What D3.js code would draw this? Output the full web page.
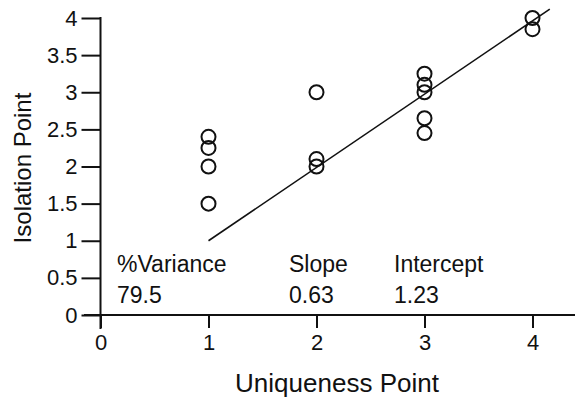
<!DOCTYPE html>
<html>
<head>
<meta charset="utf-8">
<script src="https://cdn.jsdelivr.net/npm/d3@7"></script>
<style>
  body { margin: 0; background: #fff; }
  svg text { font-family: "Liberation Sans", Arial, Helvetica, sans-serif; fill: #111; }
</style>
</head>
<body>
<div id="chart"></div>
<script>
// Points
const uniqueness = [1, 1, 1, 1, 2, 2, 2, 3, 3, 3, 3, 3, 4, 4];
const isolation = [2.4, 2.25, 2.0, 1.5, 3.0, 2.1, 2.0, 3.25, 3.1, 3.0, 2.65, 2.45, 4.0, 3.85];

// Fitted line endpoints (as drawn)
const fitX = [1, 4.16];
const fitY = [1.0, 4.12];

const xTicks = [0, 1, 2, 3, 4];
const yTicks = [0, 0.5, 1, 1.5, 2, 2.5, 3, 3.5, 4];

const statLabels = ['%Variance', 'Slope', 'Intercept'];
const statValues = ['79.5', '0.63', '1.23'];

const width = 575, height = 403;

const svg = d3.select('#chart').append('svg')
  .attr('width', width)
  .attr('height', height);

const x = d3.scaleLinear().domain([0, 4]).range([100.5, 532.5]);
const y = d3.scaleLinear().domain([0, 4]).range([315, 18]);

// y axis
const yAxis = svg.append('g')
  .attr('transform', `translate(${x(0)},0)`)
  .call(d3.axisLeft(y).tickValues(yTicks).tickFormat(d3.format('')).tickSize(19).tickPadding(4));
yAxis.select('.domain').remove();
yAxis.append('line')
  .attr('y1', y(4) - 1).attr('y2', y(0) + 14)
  .attr('stroke', '#111').attr('stroke-width', 2);
yAxis.selectAll('.tick line').attr('stroke', '#111').attr('stroke-width', 2);
yAxis.selectAll('.tick text').attr('font-size', 22).attr('fill', '#111');

// x axis
const xAxis = svg.append('g')
  .attr('transform', `translate(0,${y(0)})`)
  .call(d3.axisBottom(x).tickValues(xTicks).tickFormat(d3.format('')).tickSize(13).tickPadding(6));
xAxis.select('.domain').remove();
xAxis.append('line')
  .attr('x1', 84).attr('x2', width)
  .attr('stroke', '#111').attr('stroke-width', 2);
xAxis.selectAll('.tick line').attr('stroke', '#111').attr('stroke-width', 2);
xAxis.selectAll('.tick text').attr('font-size', 22).attr('fill', '#111');

// axis titles
svg.append('text')
  .attr('x', 337).attr('y', 392)
  .attr('text-anchor', 'middle')
  .attr('font-size', 26)
  .text('Uniqueness Point');

svg.append('text')
  .attr('transform', 'translate(31,168) rotate(-90)')
  .attr('text-anchor', 'middle')
  .attr('font-size', 24)
  .text('Isolation Point');

// regression line
svg.append('line')
  .attr('x1', x(fitX[0])).attr('y1', y(fitY[0]))
  .attr('x2', x(fitX[1])).attr('y2', y(fitY[1]))
  .attr('stroke', '#111').attr('stroke-width', 1.6);

// points
svg.append('g').selectAll('circle')
  .data(uniqueness.map((u, i) => [u, isolation[i]]))
  .enter()
  .append('circle')
  .attr('cx', d => x(d[0]))
  .attr('cy', d => y(d[1]))
  .attr('r', 7)
  .attr('fill', 'none')
  .attr('stroke', '#111')
  .attr('stroke-width', 2);

// stats table
const statX = [117, 289, 394];
statLabels.forEach((s, i) => {
  svg.append('text').attr('x', statX[i]).attr('y', 272).attr('font-size', 23).text(s);
  svg.append('text').attr('x', statX[i]).attr('y', 303).attr('font-size', 23).text(statValues[i]);
});
</script>
</body>
</html>
